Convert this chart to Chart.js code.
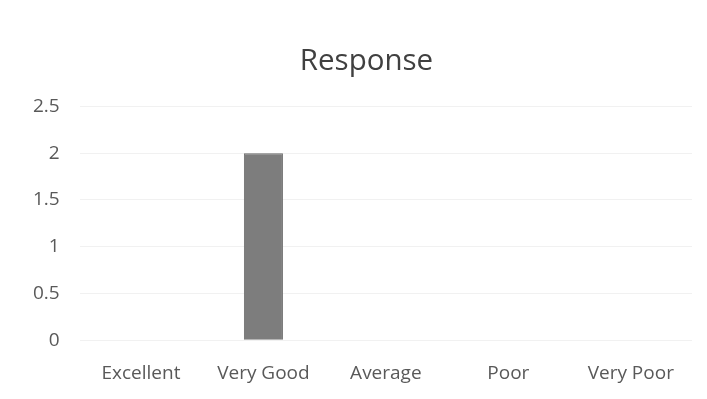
<!DOCTYPE html>
<html>
<head>
<meta charset="utf-8">
<script src="https://cdn.jsdelivr.net/npm/chart.js@4/dist/chart.umd.min.js"></script>
<style>
  html, body { margin: 0; padding: 0; background: #ffffff; }
  #wrap { width: 707px; height: 399px; position: relative; }
</style>
</head>
<body>
<div id="wrap"><canvas id="c" width="707" height="399"></canvas></div>
<script>
const categories = ["Excellent", "Very Good", "Average", "Poor", "Very Poor"];
const responses = [0, 2, 0, 0, 0];
const yTicks = [0, 0.5, 1, 1.5, 2, 2.5];

const shiftTitle = {
  id: 'shiftTitle',
  afterLayout(chart) {
    const t = chart.titleBlock;
    if (t) { t.left += 14; t.right += 14; }
  }
};

new Chart(document.getElementById('c'), {
  type: 'bar',
  data: {
    labels: categories,
    datasets: [{
      label: 'Response',
      data: responses,
      backgroundColor: '#7d7d7d',
      borderColor: '#6a6a6a',
      borderWidth: 1,
      barPercentage: 0.55,
      categoryPercentage: 0.58
    }]
  },
  options: {
    responsive: false,
    animation: false,
    layout: { padding: { left: 13, right: 15, top: 44, bottom: -8 } },
    plugins: {
      legend: { display: false },
      tooltip: { enabled: false },
      title: {
        display: true,
        text: 'Response',
        color: '#404040',
        font: { family: 'Open Sans', size: 29.5, weight: 'normal' },
        padding: { top: 0, bottom: 27 }
      }
    },
    scales: {
      x: {
        grid: { display: false, drawTicks: false },
        border: { display: false },
        ticks: {
          color: '#595959',
          font: { family: 'Open Sans', size: 19 },
          padding: 22,
          maxRotation: 0
        }
      },
      y: {
        min: 0,
        max: 2.5,
        afterBuildTicks: (axis) => { axis.ticks = yTicks.map(v => ({ value: v })); },
        grid: { color: '#f1f1f1', drawTicks: false },
        border: { display: false },
        ticks: {
          color: '#595959',
          font: { family: 'Open Sans', size: 19 },
          padding: 20,
          callback: (v) => String(v)
        }
      }
    }
  },
  plugins: [shiftTitle]
});
</script>
</body>
</html>
